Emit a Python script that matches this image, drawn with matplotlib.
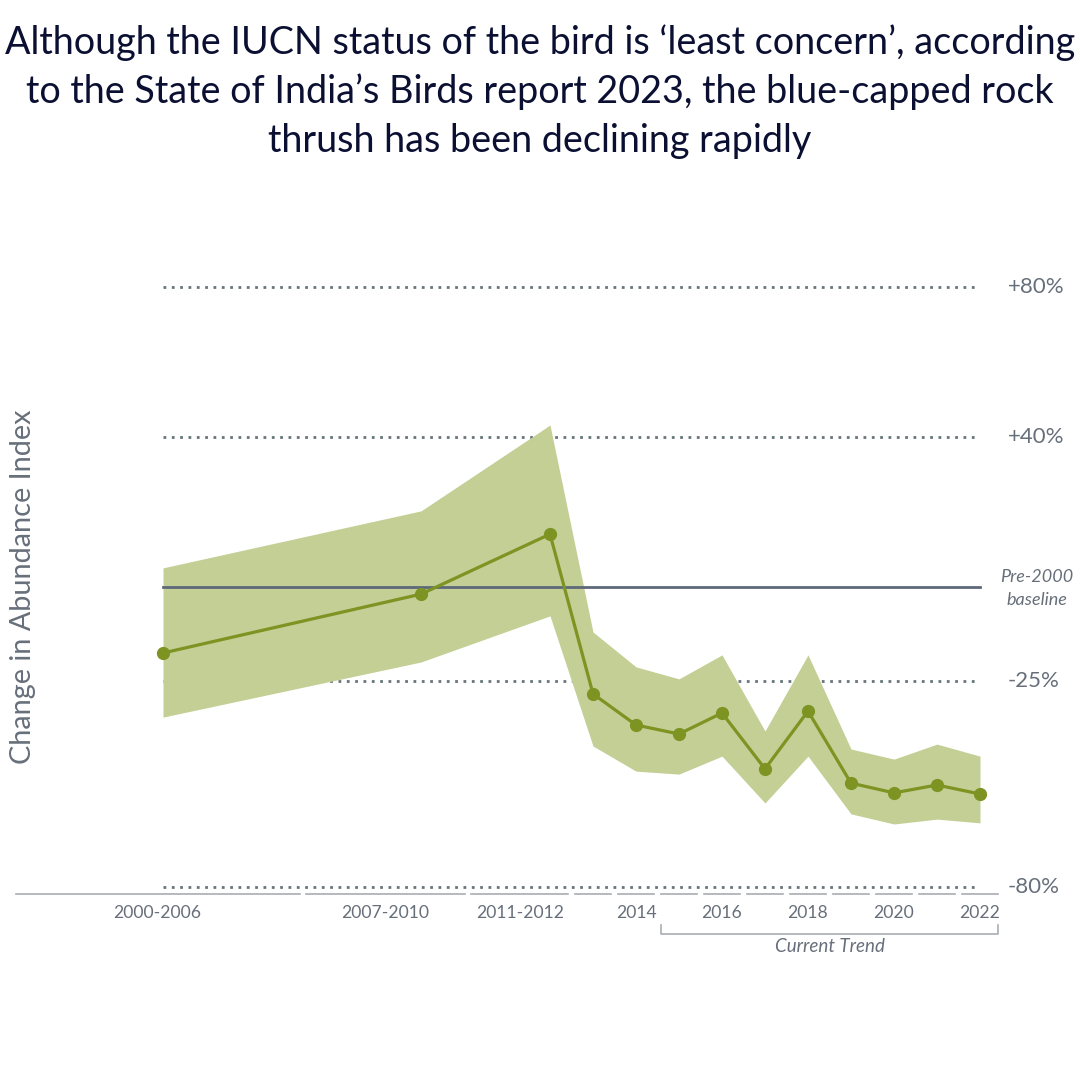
import matplotlib
matplotlib.use('Agg')
import matplotlib.pyplot as plt

# --- data (change in abundance index, %) ---
periods = ['2000-2006', '2007-2010', '2011-2012', '2013', '2014', '2015', '2016',
           '2017', '2018', '2019', '2020', '2021', '2022']
point_year = [2003, 2009, 2012, 2013, 2014, 2015, 2016, 2017, 2018, 2019, 2020, 2021, 2022]
index_mid = [-17.6, -1.9, 14.1, -28.5, -36.8, -39.2, -33.6, -48.5, -33.1, -52.3, -54.9, -52.8, -55.2]
index_hi = [5.1, 20.3, 43.2, -12.0, -21.3, -24.5, -18.1, -38.4, -18.1, -43.2, -45.9, -41.9, -45.1]
index_lo = [-34.7, -20.0, -7.7, -42.4, -49.1, -49.9, -45.1, -57.6, -45.1, -60.5, -63.2, -61.9, -62.9]
shown_labels = ['2000-2006', '2007-2010', '2011-2012', '2014', '2016', '2018', '2020', '2022']
y_ticks = [80, 40, -25, -80]
y_tick_labels = ['+80%', '+40%', '-25%', '-80%']

title = ("Although the IUCN status of the bird is \u2018least concern\u2019, according\n"
         "to the State of India\u2019s Birds report 2023, the blue-capped rock\n"
         "thrush has been declining rapidly")

# colours
line_col = '#7d9322'
band_col = '#c3cf95'
base_col = '#5d6878'
grid_col = '#66757a'
text_col = '#676f7a'
title_col = '#0b1033'

plt.rcParams['font.family'] = ['Lato', 'DejaVu Sans']

fig = plt.figure(figsize=(10.8, 10.8), dpi=100)
ax = fig.add_axes([0, 0, 1, 1])
ax.axis('off')
# one year ~ 43 px, 2022 sits at x=980px; 0% at y=587px, 3.75 px per %
ax.set_xlim(2022 - 980 / 43, 2022 + 100 / 43)
ax.set_ylim((587 - 1080) / 3.75, 587 / 3.75)

x_start, x_grid_end = point_year[0], 2021.88

# dotted gridlines
for t, lab in zip(y_ticks, y_tick_labels):
    ax.plot([x_start, x_grid_end], [t, t], color=grid_col, lw=2,
            linestyle=(0, (1, 2)), zorder=1)
    ax.text(2022.65, t, lab, color=text_col, fontsize=16, ha='left', va='center')

# confidence band
ax.fill_between(point_year, index_lo, index_hi, color=band_col, lw=0, zorder=2)

# pre-2000 baseline
ax.plot([x_start, point_year[-1]], [0, 0], color=base_col, lw=2, zorder=3)
ax.text(2023.33, -0.5, 'Pre-2000\nbaseline', color=text_col, fontsize=13,
        style='italic', ha='center', va='center', linespacing=1.55)

# trend line
ax.plot(point_year, index_mid, color=line_col, lw=2.3, marker='o', ms=8.5, zorder=4)

# x axis: segmented category bands
edges = [1999.5, 2006.25, 2010.1, 2012.5] + [y + 0.5 for y in range(2013, 2023)]
gap = 0.07
axis_y = -81.8
for i, p in enumerate(periods):
    a, b = edges[i], edges[i + 1]
    ax.plot([a + gap, b - gap], [axis_y, axis_y], color='#a9adb3', lw=1.2, zorder=1)
    if p in shown_labels:
        ax.text((a + b) / 2, -86.8, p, color=text_col, fontsize=12.6,
                ha='center', va='center')

# current trend bracket
b0, b1 = edges[periods.index('2015')] + gap, edges[-1] - gap
ax.plot([b0, b0, b1, b1], [-90.0, -92.6, -92.6, -90.0], color='#a9adb3', lw=1.2)
ax.text((b0 + b1) / 2, -95.8, 'Current Trend', color=text_col, fontsize=13.5,
        style='italic', ha='center', va='center')

# y label
fig.text(0.021, 0.457, 'Change in Abundance Index', rotation=90, color=text_col,
         fontsize=20.8, ha='center', va='center')

# title
fig.text(0.5, 0.9152, title, color=title_col, fontsize=27.2, fontweight='normal',
         ha='center', va='center', linespacing=1.43)

fig.savefig('out.png', dpi=100)
